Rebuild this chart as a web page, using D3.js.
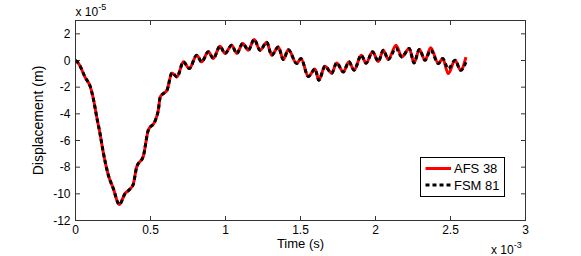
<!DOCTYPE html>
<html>
<head>
<meta charset="utf-8">
<script src="https://cdn.jsdelivr.net/npm/d3@7"></script>
<style>
html,body{margin:0;padding:0;background:#fff;}
svg{display:block;font-family:"Liberation Sans",Arial,Helvetica,sans-serif;}
</style>
</head>
<body>
<svg id="chart" width="581" height="256"></svg>
<script>
// time in units of 1e-3 s
const time = [0,0.021,0.065,0.099,0.121,0.143,0.163,0.185,0.219,0.252,0.292,0.33,0.363,0.385,0.408,0.452,0.485,0.53,0.552,0.565,0.59,0.61,0.643,0.677,0.719,0.759,0.808,0.841,0.885,0.919,0.963,0.997,1.041,1.075,1.115,1.152,1.191,1.23,1.275,1.308,1.352,1.385,1.419,1.475,1.503,1.552,1.597,1.622,1.663,1.708,1.741,1.785,1.823,1.857,1.905,1.937,1.98,2.019,2.052,2.085,2.137,2.175,2.225,2.257,2.292,2.33,2.368,2.419,2.448,2.485,2.53,2.568,2.603];
// displacement in units of 1e-5 m
const afs38 = [0,-0.23,-1.28,-1.98,-2.98,-4.33,-5.45,-6.88,-8.6,-9.6,-10.8,-9.98,-9.65,-9.28,-7.98,-7.18,-5.23,-4.55,-3.73,-2.73,-2.45,-2.23,-0.93,-1.23,-0.1,-0.6,0.4,-0.1,0.65,0.15,1.07,0.53,1.15,0.53,1.28,0.77,1.58,0.77,1.36,0.4,1.02,0.08,0.8,-0.23,0.15,-1.2,-0.64,-1.48,-0.43,-0.95,-0.18,-0.86,-0.1,-0.73,0.4,-0.2,0.65,-0.07,0.77,0.08,1.15,0.27,0.9,-0.18,0.83,0.02,0.96,-0.23,0.15,-0.98,0.02,-0.73,0.25];
const fsm81 = [0,-0.23,-1.28,-1.98,-2.98,-4.33,-5.45,-6.88,-8.6,-9.6,-10.8,-9.98,-9.65,-9.28,-7.98,-7.18,-5.23,-4.55,-3.73,-2.73,-2.45,-2.23,-0.93,-1.23,-0.1,-0.6,0.4,-0.1,0.65,0.15,1.07,0.53,1.15,0.53,1.28,0.77,1.58,0.77,1.36,0.4,1.02,0.08,0.8,-0.23,0.15,-1.2,-0.64,-1.48,-0.43,-0.95,-0.18,-0.86,-0.1,-0.73,0.4,-0.2,0.65,-0.07,0.77,0.08,0.92,0.27,0.9,-0.18,0.83,0.02,0.77,-0.23,0.15,-0.62,0.02,-0.73,-0.13];
const xTicks = [0,0.5,1,1.5,2,2.5,3];
const yTicks = [-12,-10,-8,-6,-4,-2,0,2];
const seriesNames = ["AFS 38","FSM 81"];

const svg = d3.select("#chart");
const L = 75.5, R = 525.5, T = 20.5, B = 220.5;
const x = d3.scaleLinear().domain([0,3]).range([L,R]);
const y = d3.scaleLinear().domain([-12,3]).range([B,T]);
const axisColor = "#333";

// box
svg.append("rect").attr("x",L).attr("y",T).attr("width",R-L).attr("height",B-T)
  .attr("fill","#fff").attr("stroke",axisColor).attr("stroke-width",1);

const tl = 4.5;
const g = svg.append("g").attr("stroke",axisColor).attr("stroke-width",1);
xTicks.forEach(t=>{
  g.append("line").attr("x1",x(t)).attr("x2",x(t)).attr("y1",B).attr("y2",B-tl);
  g.append("line").attr("x1",x(t)).attr("x2",x(t)).attr("y1",T).attr("y2",T+tl);
});
yTicks.forEach(t=>{
  g.append("line").attr("y1",y(t)).attr("y2",y(t)).attr("x1",L).attr("x2",L+tl);
  g.append("line").attr("y1",y(t)).attr("y2",y(t)).attr("x1",R).attr("x2",R-tl);
});

// tick labels
svg.append("g").selectAll("text").data(xTicks).join("text")
  .attr("x",d=>x(d)).attr("y",B+13.5).attr("text-anchor","middle")
  .attr("font-size",12).attr("fill","#000").text(d=>String(d));
svg.append("g").selectAll("text").data(yTicks).join("text")
  .attr("x",L-5).attr("y",d=>y(d)+4.3).attr("text-anchor","end")
  .attr("font-size",12).attr("fill","#000").text(d=>d<0?"-"+Math.abs(d):String(d));

// exponent labels
const e1 = svg.append("text").attr("x",L).attr("y",16).attr("font-size",12).attr("fill","#000");
e1.append("tspan").text("x 10");
e1.append("tspan").attr("dy",-6).attr("font-size",9).text("-5");
const e2 = svg.append("text").attr("x",491).attr("y",254).attr("font-size",12).attr("fill","#000");
e2.append("tspan").text("x 10");
e2.append("tspan").attr("dy",-6).attr("font-size",9).text("-3");

// axis labels
svg.append("text").attr("x",(L+R)/2).attr("y",248).attr("text-anchor","middle")
  .attr("font-size",13).attr("fill","#000").text("Time (s)");
svg.append("text").attr("transform",`translate(43,${(T+B)/2}) rotate(-90)`)
  .attr("text-anchor","middle").attr("font-size",14).attr("fill","#000").text("Displacement (m)");

// lines
const line = vals => d3.line().curve(d3.curveMonotoneX).x((d,i)=>x(time[i])).y(d=>y(d))(vals);
svg.append("clipPath").attr("id","clip").append("rect")
  .attr("x",L).attr("y",T).attr("width",R-L).attr("height",B-T);
svg.append("path").attr("d",line(afs38)).attr("fill","none").attr("stroke","#ff0000")
  .attr("stroke-width",3).attr("stroke-linejoin","round").attr("clip-path","url(#clip)");
svg.append("path").attr("d",line(fsm81)).attr("fill","none").attr("stroke","#000")
  .attr("stroke-width",3).attr("stroke-dasharray","4,3").attr("clip-path","url(#clip)");

// legend
const lg = svg.append("g");
lg.append("rect").attr("x",420.5).attr("y",157.5).attr("width",84).attr("height",39)
  .attr("fill","#fff").attr("stroke","#000").attr("stroke-width",1);
const ly = [168.5,185];
lg.append("line").attr("x1",425.5).attr("x2",451).attr("y1",ly[0]).attr("y2",ly[0])
  .attr("stroke","#ff0000").attr("stroke-width",3);
lg.append("line").attr("x1",425.5).attr("x2",451).attr("y1",ly[1]).attr("y2",ly[1])
  .attr("stroke","#000").attr("stroke-width",3).attr("stroke-dasharray","4,3");
seriesNames.forEach((n,i)=>{
  lg.append("text").attr("x",454).attr("y",ly[i]+4.5).attr("font-size",13).attr("fill","#000").text(n);
});
</script>
</body>
</html>
